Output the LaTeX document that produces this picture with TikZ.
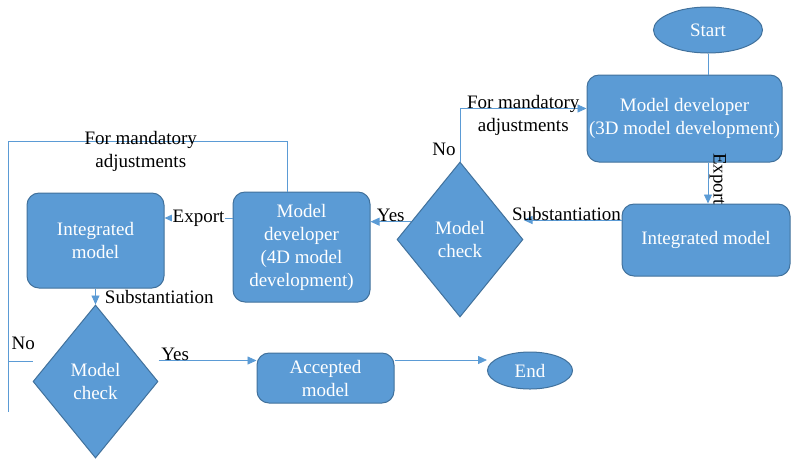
\documentclass[tikz,border=0pt]{standalone}
\usepackage{fontspec}
\setmainfont{Liberation Serif}
\usetikzlibrary{shapes.geometric,arrows.meta}
\definecolor{boxfill}{HTML}{5B9BD5}
\definecolor{boxline}{HTML}{41719C}
\tikzset{
  box/.style={draw=boxline, fill=boxfill, rounded corners=12pt, text=white, align=center, inner sep=0pt, line width=1pt},
  decide/.style={diamond, draw=boxline, fill=boxfill, text=white, align=center, inner sep=0pt, line width=1pt},
  term/.style={ellipse, draw=boxline, fill=boxfill, text=white, inner sep=0pt, line width=1pt},
  link/.style={draw=boxfill, line width=0.9pt},
  arr/.style={link, -{Triangle[length=9pt,width=8pt]}},
  lbl/.style={text=black, inner sep=1pt},
}
\begin{document}
\begin{tikzpicture}[x=1pt,y=-1pt,font=\rmfamily\fontsize{19}{23}\selectfont]
\useasboundingbox (0,0) rectangle (791,459);

% shapes
\node[term, minimum width=109pt, minimum height=46pt] (start) at (708,30) {Start};
\node[box, minimum width=195pt, minimum height=87pt] (devR) at (684.5,118.5) {Model developer\\(3D model development)};
\node[box, minimum width=168pt, minimum height=72pt] (intR) at (706,240) {Integrated model};
\node[decide, minimum width=126pt, minimum height=155pt] (chkR) at (460,239.5) {Model\\check};
\node[box, minimum width=137pt, minimum height=110pt] (devL) at (301.5,247) {Model\\developer\\(4D model\\development)};
\node[box, minimum width=137pt, minimum height=95pt] (intL) at (95.5,240.5) {Integrated\\model};
\node[decide, minimum width=125pt, minimum height=153pt] (chkL) at (95.5,381.5) {Model\\check};
\node[box, minimum width=137pt, minimum height=50pt] (acc) at (325.5,378) {Accepted\\model};
\node[term, minimum width=85pt, minimum height=37pt] (end) at (530,370.5) {End};

\coordinate (lft) at (8,141);
\coordinate (lftend) at (8,412);

% connectors
\draw[link] (start.south) -- (start.south |- devR.north);
\draw[arr] (start.south |- devR.south) -- (start.south |- intR.north)
  node[lbl, midway, rotate=-90, anchor=south, xshift=-4pt]{Export};
\draw[arr] ([yshift=20pt]intR.west) -- ([yshift=20pt]intR.west -| chkR.east)
  node[lbl, midway, anchor=base, xshift=-6pt]{Substantiation};
\draw[arr] (chkR.north) |- ([yshift=10pt]devR.west)
  node[lbl, pos=0.11, left=3pt]{No}
  node[lbl, pos=0.75, align=center, yshift=-7pt]{For mandatory\\adjustments};
\draw[arr] (chkR.160) -- (chkR.160 -| devL.east)
  node[lbl, midway, anchor=base]{Yes};
\draw[arr] ([yshift=29pt]devL.west) -- ([yshift=29pt]devL.west -| intL.east)
  node[lbl, midway, fill=white]{Export};
\draw[link] ([xshift=-14pt]devL.north) |- (lft)
  node[lbl, pos=0.75, align=center, xshift=-7pt, yshift=-10pt]{For mandatory\\adjustments}
  -- (lftend);
\draw[link] ([yshift=20pt]chkL.west) -- ([yshift=20pt]chkL.west -| lft)
  node[lbl, midway, above=10pt, xshift=3pt]{No};
\draw[arr] (intL.south) -- (chkL.north)
  node[lbl, midway, right=8pt]{Substantiation};
\draw[arr] ([yshift=21pt]chkL.east) -- ([yshift=21pt]chkL.east -| acc.west)
  node[lbl, pos=0.17, anchor=base]{Yes};
\draw[arr] ([yshift=18pt]acc.east) -- ([yshift=18pt]acc.east -| end.west);

\end{tikzpicture}
\end{document}
